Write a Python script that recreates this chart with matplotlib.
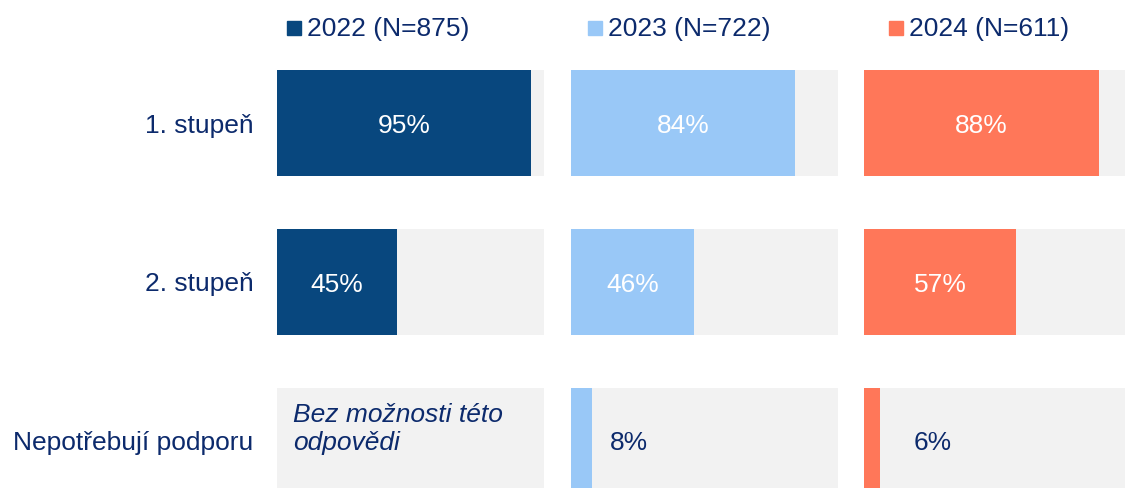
import matplotlib.pyplot as plt
from matplotlib.patches import Rectangle

plt.rcParams['font.family'] = ['Liberation Sans', 'DejaVu Sans']

# data
categories = ["1. stupeň", "2. stupeň", "Nepotřebují podporu"]
years = ["2022 (N=875)", "2023 (N=722)", "2024 (N=611)"]
values_2022 = [95, 45, None]
values_2023 = [84, 46, 8]
values_2024 = [88, 57, 6]
no_option_text = "Bez možnosti této\nodpovědi"

series = [values_2022, values_2023, values_2024]
colors = ["#08477e", "#99c8f7", "#ff7759"]
navy = "#0c2a6c"
grey = "#f2f2f2"
fs = 19

W, H = 1125, 488
fig = plt.figure(figsize=(W / 100, H / 100), dpi=100)

lefts = [277, 571, 864]
outside_pad = [7, 6.5, 12.5]   # gap between small bar and its label
panel_w = 267
top_px, bot_px = 70, 494
y = list(range(len(categories)))
bh = 0.667

for i, vals in enumerate(series):
    ax = fig.add_axes([lefts[i] / W, (H - bot_px) / H, panel_w / W, (bot_px - top_px) / H])
    ax.barh(y, [100] * len(y), height=bh, color=grey)
    for j, v in enumerate(vals):
        if v is None:
            ax.text(6, j - 0.075, no_option_text, color=navy, fontsize=fs,
                    style='italic', ha='left', va='center', linespacing=1.25)
            continue
        ax.barh(j, v, height=bh, color=colors[i])
        if v >= 20:
            ax.text(v / 2, j, f"{v}%", color='white', fontsize=fs,
                    ha='center', va='center_baseline')
        else:
            ax.text(v + outside_pad[i], j, f"{v}%", color=navy, fontsize=fs,
                    ha='left', va='center_baseline')
    ax.set_xlim(0, 100)
    ax.set_ylim(2 + bh / 2, -bh / 2)
    for s in ax.spines.values():
        s.set_visible(False)
    ax.set_xticks([])
    if i == 0:
        ax.set_yticks(y)
        ax.set_yticklabels(categories, fontsize=fs, color=navy)
        ax.tick_params(axis='y', length=0, pad=17)
    else:
        ax.set_yticks([])

    # legend entry for this year
    lx = [287, 588, 889][i]
    fig.patches.append(Rectangle((lx / W, (H - 35) / H), 14 / W, 14 / H,
                                 transform=fig.transFigure, color=colors[i]))
    fig.text((lx + 20) / W, (H - 29) / H, years[i], fontsize=fs, color=navy,
             ha='left', va='center')

fig.savefig('out.png', dpi=100)
